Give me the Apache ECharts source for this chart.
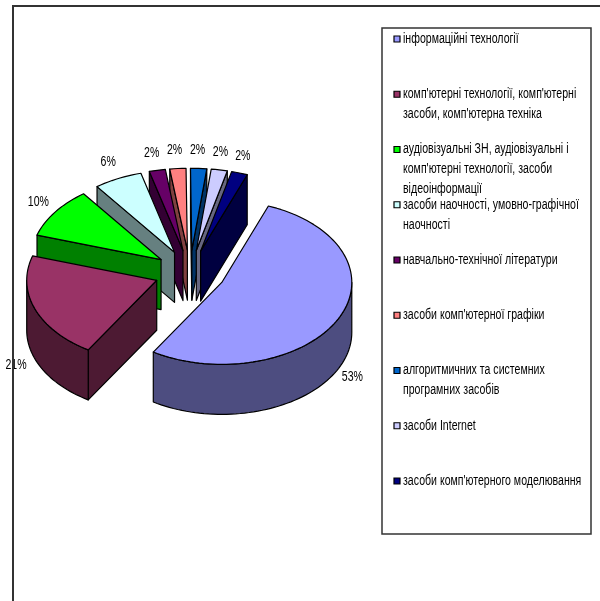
<!DOCTYPE html>
<html>
<head>
<meta charset="utf-8">
<style>html,body{margin:0;padding:0;background:#fff}#chart{width:600px;height:601px}</style>
<script src="https://cdn.jsdelivr.net/npm/echarts@6/dist/echarts.min.js"></script>
</head>
<body>
<div id="chart"></div>
<script>
// Categories, shares (percent) and slice colours
const categories = [
  "інформаційні технології",
  "комп'ютерні технології, комп'ютерні\nзасоби, комп'ютерна техніка",
  "аудіовізуальні ЗН, аудіовізуальні і\nкомп'ютерні технології, засоби\nвідеоінформації",
  "засоби наочності, умовно-графічної\nнаочності",
  "навчально-технічної літератури",
  "засоби комп'ютерної графіки",
  "алгоритмичних та системних\nпрограмних засобів",
  "засоби Internet",
  "засоби комп'ютерного моделювання"
];
const shares = [53, 21, 10, 6, 2, 2, 2, 2, 2];
const colors = ["#9999FF", "#993366", "#00FF00", "#CCFFFF", "#660066", "#FF8080", "#0066CC", "#CCCCFF", "#000080"];

// Projection of the tilted, exploded pie
const pie = { cx: 190, cy: 272.5, rx: 130, tilt: 0.63, depth: 50, explode: 35.5, startDeg: 21, labelGap: 18, labelShift: -2 };
const FONT = '14px "Liberation Sans", Arial, sans-serif';
const TEXT_SQUEEZE = 0.755;
const LEGEND = { swatchX: 394, swatchSize: 6, textX: 403, firstY: 39, pitch: 55.25, lineHeight: 20 };

const total = shares.reduce((a, b) => a + b, 0);
const rad = d => d * Math.PI / 180;
const spans = [];
shares.reduce((start, v) => {
  const end = start + v / total * 360;
  spans.push([start, end]);
  return end;
}, pie.startDeg);

// Halved colour used for the extruded walls
function shade(hex) {
  const n = parseInt(hex.slice(1), 16);
  const h = c => Math.round(c / 2).toString(16).padStart(2, '0');
  return '#' + h(n >> 16 & 255) + h(n >> 8 & 255) + h(n & 255);
}

function renderSlice(i) {
  const [a0, a1] = spans[i];
  const mid = (a0 + a1) / 2;
  const apex = [
    pie.cx + pie.explode * Math.sin(rad(mid)),
    pie.cy - pie.explode * Math.cos(rad(mid)) * pie.tilt
  ];
  const rim = deg => [
    apex[0] + pie.rx * Math.sin(rad(deg)),
    apex[1] - pie.rx * Math.cos(rad(deg)) * pie.tilt
  ];
  const down = p => [p[0], p[1] + pie.depth];
  const arc = (from, to) => {
    const n = Math.max(2, Math.ceil((to - from) / 2));
    return Array.from({ length: n + 1 }, (_, k) => rim(from + (to - from) * k / n));
  };
  const stroke = { stroke: '#000', lineWidth: 1.2, lineJoin: 'round' };
  const wallStyle = Object.assign({ fill: shade(colors[i]) }, stroke);
  const poly = (points, style) => ({ type: 'polygon', shape: { points }, style });
  const children = [];

  // Walls along the two straight edges, only when they face the viewer
  if (Math.sin(rad(a0)) < 0) {
    const p = rim(a0);
    children.push(poly([apex, p, down(p), down(apex)], wallStyle));
  }
  if (Math.sin(rad(a1)) > 0) {
    const p = rim(a1);
    children.push(poly([apex, p, down(p), down(apex)], wallStyle));
  }
  // Curved outer wall for the part of the rim on the near side
  const from = Math.max(a0, 90), to = Math.min(a1, 270);
  if (to > from) {
    const top = arc(from, to);
    children.push(poly(top.concat(top.map(down).reverse()), wallStyle));
  }
  // Top face
  children.push(poly([apex].concat(arc(a0, a1)), Object.assign({ fill: colors[i] }, stroke)));

  // Percentage label beyond the rim
  const edge = rim(mid);
  const front = Math.cos(rad(mid)) < 0;
  children.push({
    type: 'text',
    x: edge[0] + pie.labelGap * Math.sin(rad(mid)) + pie.labelShift,
    y: edge[1] - pie.labelGap * Math.cos(rad(mid)) + (front ? pie.depth : 0),
    scaleX: TEXT_SQUEEZE,
    style: {
      text: shares[i] + '%',
      fill: '#000',
      font: FONT,
      align: 'center',
      verticalAlign: 'middle'
    }
  });
  return { type: 'group', children };
}

const depthOrder = shares.map((_, i) => i)
  .sort((p, q) => Math.cos(rad((spans[q][0] + spans[q][1]) / 2)) - Math.cos(rad((spans[p][0] + spans[p][1]) / 2)));

// Key entries: a swatch and condensed text with the first line level with it
const legendEntries = categories.flatMap((name, i) => {
  const y = LEGEND.firstY + i * LEGEND.pitch;
  return [
    {
      type: 'rect',
      z: 1,
      shape: { x: LEGEND.swatchX, y: y - LEGEND.swatchSize / 2, width: LEGEND.swatchSize, height: LEGEND.swatchSize },
      style: { fill: colors[i], stroke: '#000', lineWidth: 1.2 }
    },
    {
      type: 'text',
      z: 1,
      x: LEGEND.textX,
      y: y - LEGEND.lineHeight / 2,
      scaleX: TEXT_SQUEEZE,
      style: { text: name, font: FONT, fill: '#000', lineHeight: LEGEND.lineHeight, verticalAlign: 'top' }
    }
  ];
});

const option = {
  animation: false,
  backgroundColor: '#fff',
  graphic: [
    { type: 'polyline', z: 30, shape: { points: [[600, 6], [13, 6], [13, 601]] }, style: { stroke: '#333', lineWidth: 2, fill: null } },
    { type: 'rect', z: 0, shape: { x: 382, y: 28, width: 209, height: 506 }, style: { stroke: '#333', lineWidth: 1.5, fill: '#fff' } }
  ].concat(legendEntries),
  series: categories.map((name, i) => ({
    type: 'custom',
    name,
    coordinateSystem: 'none',
    z: 2 + depthOrder.indexOf(i),
    silent: true,
    itemStyle: { color: colors[i] },
    data: [shares[i]],
    renderItem: () => renderSlice(i)
  }))
};

echarts.init(document.getElementById('chart')).setOption(option);
</script>
</body>
</html>
